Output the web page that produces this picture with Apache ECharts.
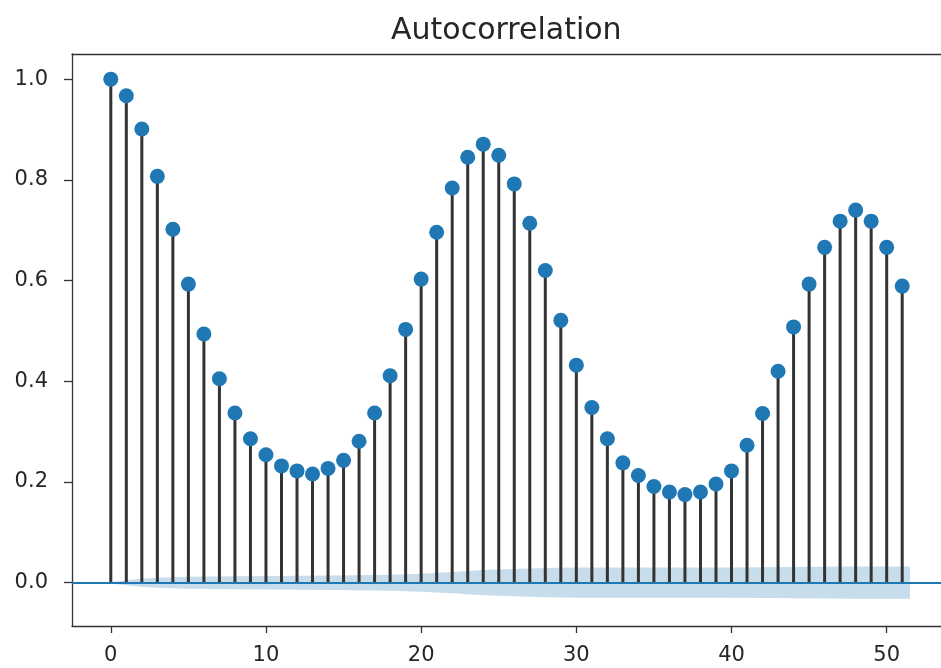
<!DOCTYPE html>
<html>
<head>
<meta charset="utf-8">
<script src="https://cdn.jsdelivr.net/npm/echarts@6/dist/echarts.min.js"></script>
<style>
  html, body { margin: 0; padding: 0; background: #fff; }
  #chart { width: 941px; height: 668px; }
</style>
</head>
<body>
<div id="chart"></div>
<script>
// autocorrelation per lag (lag = index)
const acfValues = [
  1.000, 0.967, 0.901, 0.807, 0.702, 0.593, 0.494, 0.405, 0.337, 0.286,
  0.254, 0.232, 0.222, 0.216, 0.227, 0.243, 0.281, 0.337, 0.411, 0.503,
  0.603, 0.696, 0.784, 0.845, 0.871, 0.849, 0.792, 0.714, 0.620, 0.521,
  0.432, 0.348, 0.286, 0.238, 0.213, 0.191, 0.180, 0.175, 0.180, 0.196,
  0.222, 0.273, 0.336, 0.420, 0.508, 0.593, 0.666, 0.718, 0.740, 0.718,
  0.666, 0.589
];

// confidence band half width, read at a few lags
const bandLags = [-0.5, 1, 2, 3, 4, 5, 8, 12, 16, 18, 20, 22, 24, 26, 28, 30, 40, 44, 48, 51.5];
const bandHalf = [0, 0.005, 0.008, 0.010, 0.011, 0.012, 0.013, 0.014, 0.015, 0.016,
                  0.018, 0.021, 0.025, 0.027, 0.029, 0.030, 0.030, 0.031, 0.032, 0.032];

const xTicks = [0, 10, 20, 30, 40, 50];
const yTicks = [0, 0.2, 0.4, 0.6, 0.8, 1.0];

const FONT = 'DejaVu Sans';
const BLUE = '#1f77b4';
const SPINE = { color: '#333', width: 1.3 };

const chart = echarts.init(document.getElementById('chart'));

const stemData = acfValues.map((v, i) => [i, v]);

const option = {
  animation: false,
  title: {
    text: 'Autocorrelation',
    left: 386,
    top: 11,
    textStyle: { fontFamily: FONT, fontSize: 30, fontWeight: 'normal', color: '#262626' }
  },
  grid: {
    left: 72,
    top: 54,
    right: 0,
    height: 572,
    show: false
  },
  xAxis: [
    {
      type: 'value',
      min: -2.5,
      max: 53.5,
      axisLine: { show: true, onZero: false, lineStyle: SPINE },
      splitLine: { show: false },
      axisTick: { show: true, length: 7, customValues: xTicks, lineStyle: SPINE },
      axisLabel: {
        customValues: xTicks,
        margin: 19,
        fontFamily: FONT,
        fontSize: 21,
        color: '#262626'
      }
    },
    {
      // top spine only
      type: 'value',
      position: 'top',
      min: -2.5,
      max: 53.5,
      axisLine: { show: true, onZero: false, lineStyle: SPINE },
      axisTick: { show: false },
      axisLabel: { show: false },
      splitLine: { show: false }
    }
  ],
  yAxis: {
    type: 'value',
    min: -0.086,
    max: 1.05,
    axisLine: { show: true, onZero: false, lineStyle: SPINE },
    splitLine: { show: false },
    axisTick: { show: true, length: 8, customValues: yTicks, lineStyle: SPINE },
    axisLabel: {
      customValues: yTicks,
      margin: 24,
      fontFamily: FONT,
      fontSize: 21,
      color: '#262626',
      formatter: (v) => v.toFixed(1)
    }
  },
  series: [
    {
      // confidence band
      type: 'custom',
      clip: true,
      silent: true,
      z: 1,
      data: [[0, 0]],
      renderItem: function (params, api) {
        const upper = bandLags.map((x, i) => api.coord([x, bandHalf[i]]));
        const lower = bandLags.map((x, i) => api.coord([x, -bandHalf[i]])).reverse();
        return {
          type: 'polygon',
          shape: { points: upper.concat(lower) },
          style: { fill: 'rgba(31,119,180,0.25)' }
        };
      }
    },
    {
      // stems
      type: 'custom',
      clip: true,
      silent: true,
      z: 2,
      data: stemData,
      renderItem: function (params, api) {
        const top = api.coord([api.value(0), api.value(1)]);
        const base = api.coord([api.value(0), 0]);
        return {
          type: 'line',
          shape: { x1: base[0], y1: base[1], x2: top[0], y2: top[1] },
          style: { stroke: '#333', lineWidth: 3 }
        };
      },
      markLine: {
        silent: true,
        symbol: ['none', 'none'],
        label: { show: false },
        lineStyle: { color: BLUE, width: 2.2, type: 'solid' },
        data: [{ yAxis: 0 }]
      }
    },
    {
      type: 'scatter',
      z: 3,
      symbol: 'circle',
      symbolSize: 15,
      itemStyle: { color: BLUE, opacity: 1 },
      data: stemData
    }
  ]
};

chart.setOption(option);
</script>
</body>
</html>
